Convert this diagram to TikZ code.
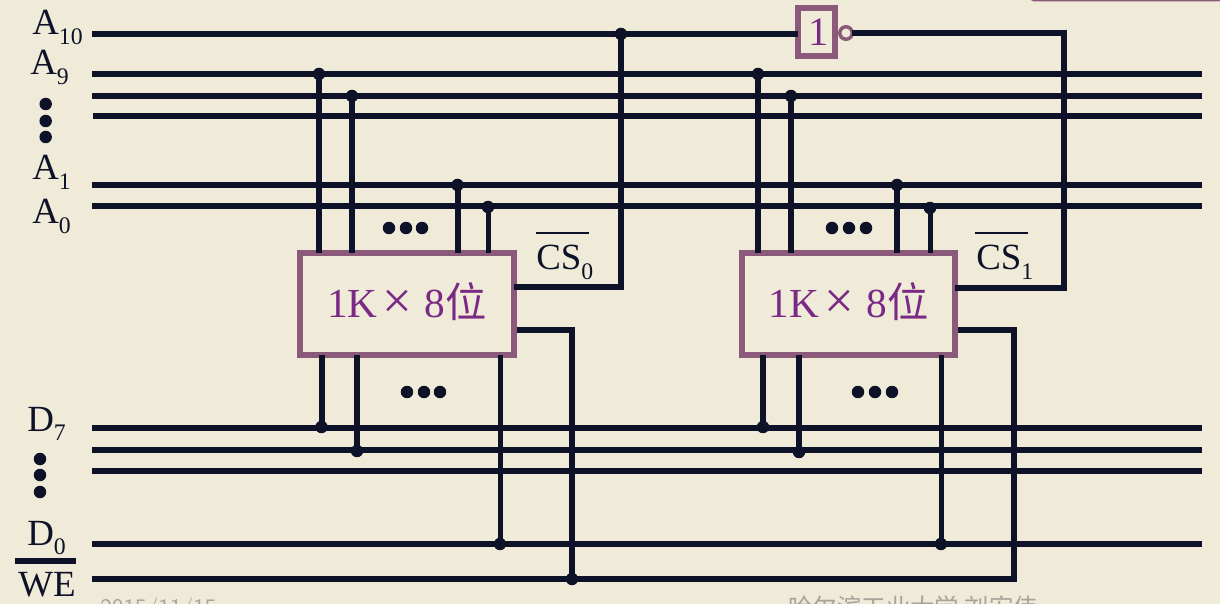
\documentclass[tikz,border=0pt]{standalone}
\usepackage{fontspec}
\setmainfont{Liberation Serif}
\newfontfamily\cjk{Noto Sans CJK SC}
\usetikzlibrary{calc}
\definecolor{paper}{HTML}{F0EBD8}
\definecolor{ink}{HTML}{0E1229}
\definecolor{frame}{HTML}{8B5A7A}
\definecolor{plum}{HTML}{7A2A85}
\definecolor{foot}{HTML}{A6A49A}
\newcommand{\subname}[2]{#1\raisebox{-5.5pt}{\fontsize{13.5}{16}\selectfont #2}}
\newcommand{\chiptext}{\raisebox{5pt}{1K\hspace{.1cm}{\fontsize{30}{30}\selectfont\raisebox{-1pt}{×}}\hspace{.25cm}8{\cjk 位}}}
\begin{document}
\begin{tikzpicture}[x=.02cm, y=-.02cm,
wire/.style={draw=ink, line width=.12cm},
thinwire/.style={draw=ink, line width=.1cm},
junction/.style={inner sep=0, minimum size=.25cm, fill=ink, circle},
moredot/.style={inner sep=0, minimum size=.25cm, fill=ink, circle},
chip/.style={draw=frame, line width=.12cm, inner sep=0, outer sep=0, minimum width=4.27cm, minimum height=2.06cm, text=plum, font=\fontsize{23.5}{26}\selectfont},
gate/.style={draw=frame, line width=.12cm, inner sep=0, outer sep=0, minimum width=.74cm, minimum height=.96cm, text=plum, font=\fontsize{23}{26}\selectfont},
bubble/.style={draw=frame, line width=.07cm, fill=paper, circle, inner sep=0, outer sep=0, minimum size=.25cm},
busname/.style={anchor=base west, inner sep=0, text=ink, font=\fontsize{21}{26}\selectfont},
footer/.style={anchor=base west, inner sep=0, text=foot, font=\fontsize{13.2}{16}\selectfont}]
\useasboundingbox (0,0) rectangle (1220,604);
\fill[paper] (0,0) rectangle (1220,604);
\fill[frame] (1024,-3) -- (1220,-3) -- (1220,1.5) -- (1034,1.5) -- cycle;
% bus ends
\coordinate (A10L) at (92,34);
\coordinate (A9L) at (92,74);
\coordinate (A9R) at (1202,74);
\coordinate (A8L) at (92,96);
\coordinate (A8R) at (1202,96);
\coordinate (A7L) at (93,116);
\coordinate (A7R) at (1202,116);
\coordinate (A1L) at (92,185);
\coordinate (A1R) at (1202,185);
\coordinate (A0L) at (92,206);
\coordinate (A0R) at (1202,206);
\coordinate (D7L) at (92,428);
\coordinate (D7R) at (1202,428);
\coordinate (D6L) at (92,450);
\coordinate (D6R) at (1202,450);
\coordinate (D5L) at (92,471);
\coordinate (D5R) at (1202,471);
\coordinate (D0L) at (92,544);
\coordinate (D0R) at (1202,544);
\coordinate (WEL) at (92,579);
\coordinate (WER) at (1016.5,579);
\draw[wire] (A9L) -- (A9R);
\draw[wire] (A8L) -- (A8R);
\draw[wire] (A7L) -- (A7R);
\draw[wire] (A1L) -- (A1R);
\draw[wire] (A0L) -- (A0R);
\draw[wire] (D7L) -- (D7R);
\draw[wire] (D6L) -- (D6R);
\draw[wire] (D5L) -- (D5R);
\draw[wire] (D0L) -- (D0R);
\draw[wire] (WEL) -- (WER);
% chips
\node[chip] (chipa) at (407,304) {\chiptext};
\node[chip] (chipb) at (848.5,304) {\chiptext};
\node[gate] (inv) at (816.5,32) {\hspace{.08cm}1};
\node[bubble] (invout) at (846,33) {};
% junctions, first chip
\node[junction] (ja9) at (319,74) {};
\node[junction] (ja8) at (352,96) {};
\node[junction] (ja1) at (457.5,185) {};
\node[junction] (ja0) at (488,207) {};
\node[junction] (jd7) at (321.5,427) {};
\node[junction] (jd6) at (357,451) {};
\node[junction] (jd0) at (500,544) {};
\node[junction] (jwe) at (572,579) {};
\node[junction] (jcs) at (621,34) {};
% junctions, second chip
\node[junction] (ka9) at (758,74) {};
\node[junction] (ka8) at (791,96) {};
\node[junction] (ka1) at (897,185) {};
\node[junction] (ka0) at (930,208) {};
\node[junction] (kd7) at (763,427) {};
\node[junction] (kd6) at (799,452) {};
\node[junction] (kd0) at (941,544) {};
\draw[wire] (ja9.center) -- (ja9.center |- chipa.north);
\draw[wire] (ja8.center) -- (ja8.center |- chipa.north);
\draw[wire] (ja1.center) -- (ja1.center |- chipa.north);
\draw[thinwire] (ja0.center) -- (ja0.center |- chipa.north);
\draw[wire] (jd7.center) -- (jd7.center |- chipa.south);
\draw[wire] (jd6.center) -- (jd6.center |- chipa.south);
\draw[thinwire] (jd0.center) -- (jd0.center |- chipa.south);
\draw[wire] (ka9.center) -- (ka9.center |- chipb.north);
\draw[wire] (ka8.center) -- (ka8.center |- chipb.north);
\draw[wire] (ka1.center) -- (ka1.center |- chipb.north);
\draw[thinwire] (ka0.center) -- (ka0.center |- chipb.north);
\draw[wire] (kd7.center) -- (kd7.center |- chipb.south);
\draw[wire] (kd6.center) -- (kd6.center |- chipb.south);
\draw[thinwire] (kd0.center) -- (kd0.center |- chipb.south);
% select and write lines
\coordinate (csa) at (514,287);
\coordinate (csb) at (955,288);
\coordinate (wea) at (517,330);
\coordinate (web) at (958,330);
\coordinate (weturn) at (1013.5,579);
\coordinate (invturn) at (1064,33);
\draw[wire] (A10L) -- (jcs.center) -- (jcs.center -| inv.west);
\draw[wire] (csa) -| (jcs.center);
\draw[wire] (invout.east) -- (invturn) |- (csb);
\draw[wire] (wea) -| (jwe.center);
\draw[wire] (web) -| (weturn);
% row dots
\foreach \n/\x/\y in {1/45.7/104, 2/45.7/121, 3/45.7/137, 4/40/459, 5/40/475, 6/40/492,
  7/389/228, 8/406/228, 9/422/228, 10/407/392, 11/424/392, 12/440/392,
  13/832/228, 14/849/228, 15/866/228, 16/858/392, 17/875/392, 18/892/392}
  \node[moredot] (dot\n) at (\x,\y) {};
% names
\node[busname] (nA10) at (32,35) {\subname{A}{10}};
\node[busname] (nA9) at (30,75) {\subname{A}{9}};
\node[busname] (nA1) at (32,180) {\subname{A}{1}};
\node[busname] (nA0) at (32,224) {\subname{A}{0}};
\node[busname] (nD7) at (27,431) {\subname{D}{7}};
\node[busname] (nD0) at (27,545) {\subname{D}{0}};
\node[busname] (nWE) at (18,596) {WE};
\node[busname] (nCSa) at (536,270) {\subname{CS}{0}};
\node[busname] (nCSb) at (976,270) {\subname{CS}{1}};
\coordinate (weL) at (15,561);
\coordinate (weR) at (76,561);
\draw[wire] (weL) -- (weR);
\coordinate (csaL) at (536,233);
\coordinate (csaR) at (589,233);
\coordinate (csbL) at (975,233);
\coordinate (csbR) at (1028,233);
\draw[ink, line width=.04cm] (csaL) -- (csaR);
\draw[ink, line width=.04cm] (csbL) -- (csbR);
\node[footer, font=\sffamily\fontsize{13.5}{16}\selectfont] (fdate) at (100,615) {2015/11/15};
\node[footer, font=\cjk\fontsize{13.9}{16}\selectfont] (fname) at (788,616) {哈尔滨工业大学 刘宏伟};
\end{tikzpicture}
\end{document}
